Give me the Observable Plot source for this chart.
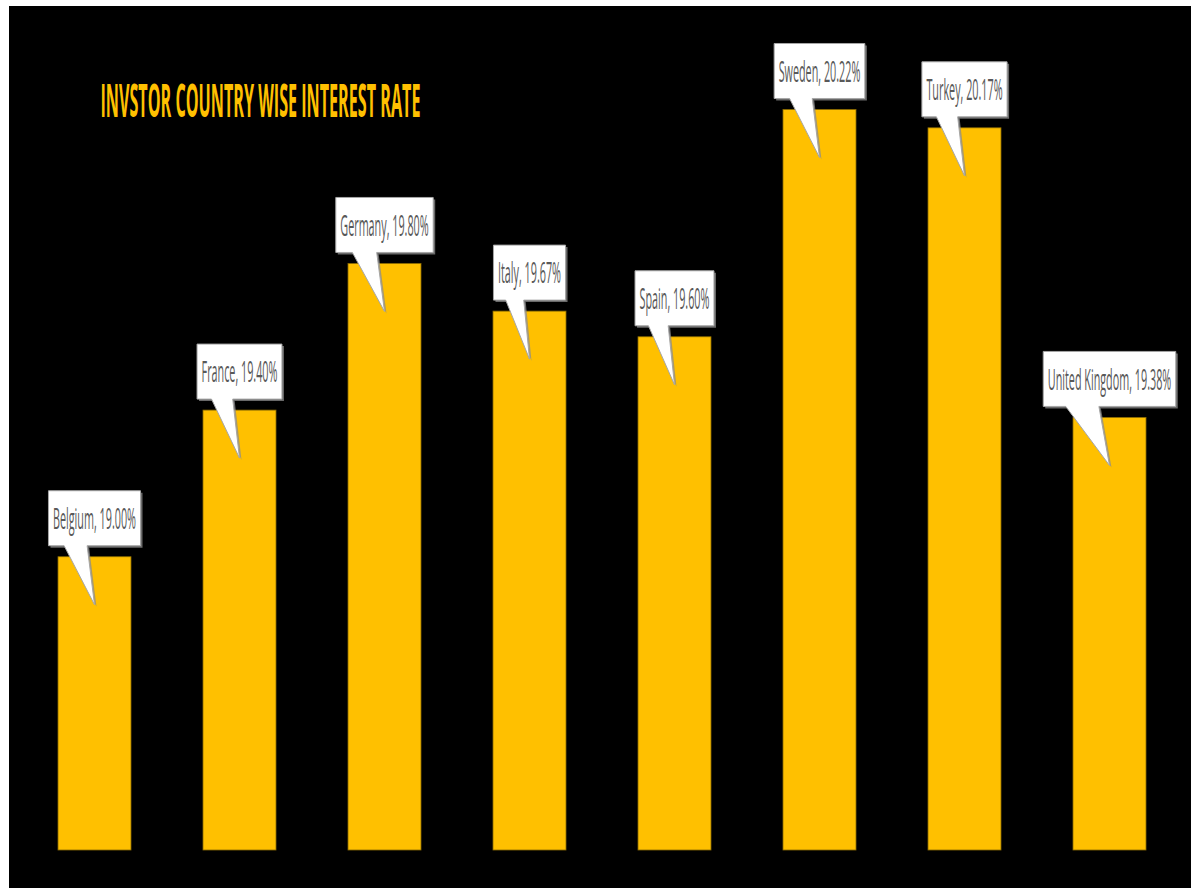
<!DOCTYPE html>
<html>
<head>
<meta charset="utf-8">
<script src="https://cdn.jsdelivr.net/npm/d3@7"></script>
<script src="https://cdn.jsdelivr.net/npm/@observablehq/plot@0.6"></script>
<style>
  html, body { margin: 0; padding: 0; background: #ffffff; }
  #chart { position: absolute; left: 9px; top: 6px; }
  #chart svg { display: block; }
</style>
</head>
<body>
<div id="chart"></div>
<script>
// ---- data ----
const title = "INVSTOR COUNTRY WISE INTEREST RATE";
const countries = ["Belgium", "France", "Germany", "Italy", "Spain", "Sweden", "Turkey", "United Kingdom"];
const rates = [19.00, 19.40, 19.80, 19.67, 19.60, 20.22, 20.17, 19.38];
const yAxisMin = 18.2;
const yAxisMax = 20.4;

const data = countries.map((c, i) => ({country: c, rate: rates[i]}));

// ---- style ----
const GOLD = "#FFC000";
const LABEL_FONT = "'Open Sans', 'DejaVu Sans', sans-serif";
const LABEL_SIZE = 30;
const CONDENSE = 0.36;
const TITLE_WIDTH = 320;

function callouts(index, scales, values, dimensions) {
  const sx = scales.x, sy = scales.y;
  const bw = typeof sx.bandwidth === "function" ? sx.bandwidth() : 0;
  const g = d3.create("svg:g").attr("aria-label", "callouts");
  const ctx = document.createElement("canvas").getContext("2d");
  ctx.font = `${LABEL_SIZE}px ${LABEL_FONT}`;
  data.forEach(d => {
    const label = `${d.country}, ${d.rate.toFixed(2)}%`;
    const cx = sx(d.country) + bw / 2;
    const top = sy(d.rate);
    const tw = ctx.measureText(label).width * CONDENSE;
    const w = tw + 9, h = 55;
    const L = cx - w / 2, R = cx + w / 2, B = top - 11, T = B - h;
    const tipY = top + 48;
    const path = `M${L},${T}H${R}V${B}H${L + 0.42 * w}L${cx},${tipY}L${L + 0.17 * w},${B}H${L}Z`;
    g.append("path").attr("d", path).attr("fill", "#8c8c8c").attr("opacity", 0.75)
      .attr("transform", "translate(2,2)");
    g.append("path").attr("d", path).attr("fill", "#ffffff")
      .attr("stroke", "#a6a6a6").attr("stroke-width", 1);
    g.append("text")
      .attr("transform", `translate(${cx},${(T + B) / 2 + LABEL_SIZE * 0.36}) scale(${CONDENSE},1)`)
      .attr("text-anchor", "middle")
      .attr("font-family", LABEL_FONT)
      .attr("font-size", LABEL_SIZE)
      .attr("fill", "#595959")
      .text(label);
  });
  return g.node();
}

const plot = Plot.plot({
  width: 1182,
  height: 882,
  marginLeft: 12.75,
  marginRight: 9.25,
  marginTop: 37.5,
  marginBottom: 38,
  style: {background: "#000000", fontFamily: LABEL_FONT},
  x: {domain: countries, paddingInner: 0.5, paddingOuter: 0.25, axis: null},
  y: {domain: [yAxisMin, yAxisMax], axis: null},
  marks: [
    Plot.barY(data, {x: "country", y1: () => yAxisMin, y2: "rate", fill: GOLD, stroke: "#8a6a00", strokeWidth: 0.8}),
    callouts,
    Plot.text([title], {
      frameAnchor: "top-left", text: d => d, textAnchor: "start", lineAnchor: "top",
      dx: 78.25, dy: 40, fontSize: 46, fontWeight: "bold", fill: GOLD,
      fontFamily: LABEL_FONT
    })
  ]
});

document.getElementById("chart").appendChild(plot);
plot.querySelectorAll("text").forEach(t => {
  if (t.textContent === title) {
    const natural = t.getComputedTextLength();
    if (natural > 0) {
      const k = TITLE_WIDTH / natural;
      t.setAttribute("transform", (t.getAttribute("transform") || "") + ` scale(${k},1)`);
    }
  }
});
</script>
</body>
</html>
